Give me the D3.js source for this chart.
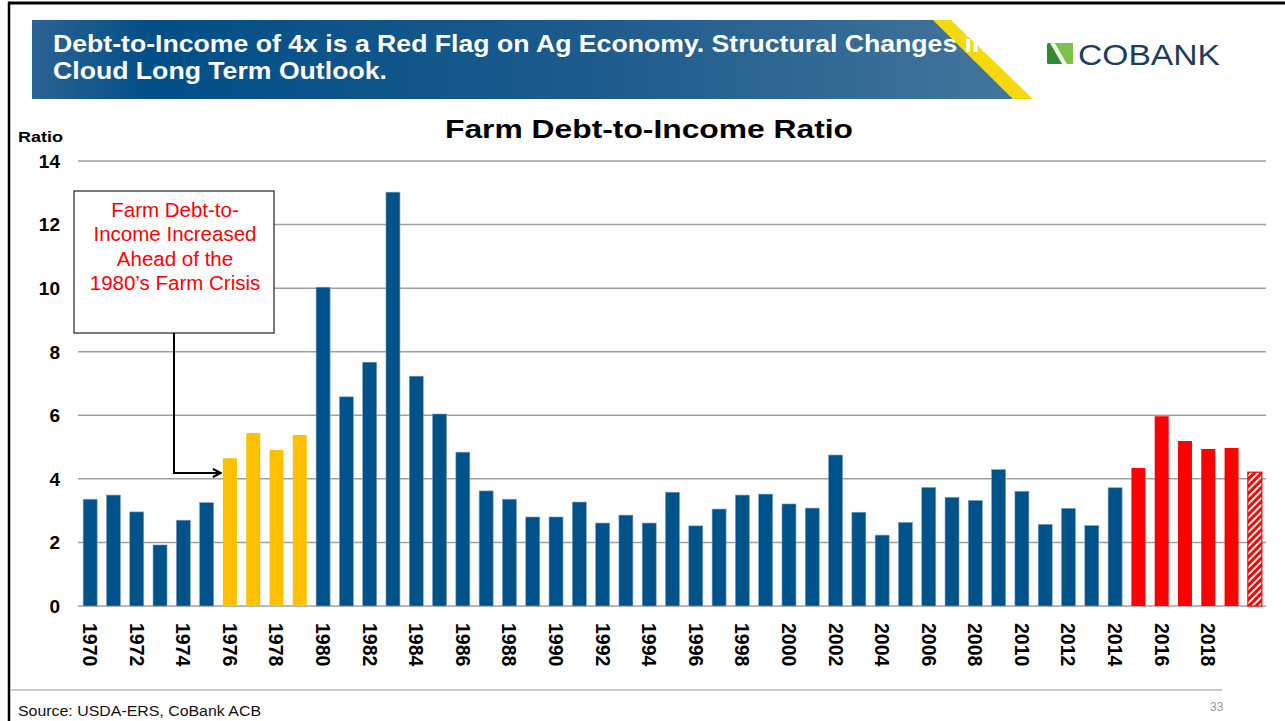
<!DOCTYPE html>
<html><head><meta charset="utf-8">
<script src="https://cdn.jsdelivr.net/npm/d3@7"></script>
<style>body{margin:0;background:#fff}svg{display:block;font-family:"Liberation Sans",Arial,sans-serif}</style>
</head><body>
<svg id="c" width="1285" height="721"></svg>
<script>
const years = d3.range(1970, 2021);
const ratios = [3.36,3.49,2.96,1.92,2.70,3.25,4.65,5.44,4.91,5.38,
  10.03,6.58,7.67,13.02,7.23,6.04,4.84,3.62,3.36,2.80,
  2.80,3.27,2.61,2.86,2.61,3.58,2.52,3.05,3.49,3.52,
  3.21,3.08,4.75,2.95,2.23,2.63,3.73,3.42,3.32,4.29,
  3.61,2.57,3.07,2.53,3.72,4.34,5.97,5.19,4.94,4.97,4.21];
const yTicks = [0,2,4,6,8,10,12,14];
const xLabels = d3.range(1970, 2019, 2);
const highlightYellow = [1976,1977,1978,1979];
const highlightRed = [2015,2016,2017,2018,2019];
const forecastYears = [2020];
const titleLines = ["Debt-to-Income of 4x is a Red Flag on Ag Economy. Structural Changes in", "Cloud Long Term Outlook."];
const noteLines = ["Farm Debt-to-","Income Increased","Ahead of the","1980\u2019s Farm Crisis"];

const svg = d3.select("#c");
const defs = svg.append("defs");
const g1 = defs.append("linearGradient").attr("id","ban").attr("x1","0").attr("x2","1");
g1.append("stop").attr("offset","0").attr("stop-color","#2b6393");
g1.append("stop").attr("offset","0.12").attr("stop-color","#014f88");
g1.append("stop").attr("offset","0.55").attr("stop-color","#1b5a8c");
g1.append("stop").attr("offset","1").attr("stop-color","#42759b");
const pat = defs.append("pattern").attr("id","hatch").attr("patternUnits","userSpaceOnUse")
  .attr("width",5).attr("height",5).attr("patternTransform","rotate(45)");
pat.append("rect").attr("width",5).attr("height",5).attr("fill","#fff");
pat.append("rect").attr("width",3).attr("height",5).attr("fill","#ff0000");
const ar = defs.append("marker").attr("id","arr").attr("viewBox","0 0 10 10").attr("refX",9).attr("refY",5)
  .attr("markerWidth",5).attr("markerHeight",5).attr("orient","auto");
ar.append("path").attr("d","M1,1 L9,5 L1,9").attr("fill","none").attr("stroke","#000").attr("stroke-width",2);

// frame
svg.append("line").attr("x1",8).attr("x2",1285).attr("y1",3).attr("y2",3).attr("stroke","#000").attr("stroke-width",3);
svg.append("line").attr("x1",9).attr("x2",9).attr("y1",2).attr("y2",721).attr("stroke","#000").attr("stroke-width",2.5);
svg.append("line").attr("x1",10).attr("x2",1222).attr("y1",690).attr("y2",690).attr("stroke","#bbb").attr("stroke-width",1.5);

// banner
svg.append("path").attr("d","M933,20 L951,20 L1033,99 L1013,99 Z").attr("fill","#f5d90a");
svg.append("path").attr("d","M32,20 L933,20 L1013,99 L32,99 Z").attr("fill","url(#ban)");
const t1 = svg.append("text").attr("y",52).attr("fill","#fff").attr("font-weight","bold").attr("font-size",23).text(titleLines[0]);
const fullW = t1.node().getComputedTextLength();
const prefW = t1.node().getSubStringLength(0, titleLines[0].length - 3);
const sx = (958 - 53) / prefW;
t1.attr("transform",`translate(53,0) scale(${sx},1)`);
svg.append("text").attr("y",79).attr("fill","#fff").attr("font-weight","bold").attr("font-size",23)
  .attr("transform",`translate(53,0) scale(${sx},1)`).text(titleLines[1]);

// logo
const lg = svg.append("g").attr("transform","translate(1047,43)");
lg.append("rect").attr("width",26).attr("height",21).attr("rx",1.5).attr("fill","#2f8a32");
lg.append("path").attr("d","M8,0 L26,0 L26,21 L20,21 Z").attr("fill","#7cc24a");
lg.append("path").attr("d","M3,0 L8,0 L20,21 L15,21 Z").attr("fill","#eef6e8");
lg.append("text").attr("x",31).attr("y",22).attr("font-size",30).attr("fill","#1e3d5e")
  .attr("textLength",142).attr("lengthAdjust","spacingAndGlyphs").text("COBANK");

// scales
const x = d3.scaleBand().domain(years).range([78.5,1266.5]).paddingInner(0.4).paddingOuter(0.2);
const y = d3.scaleLinear().domain([0,14]).range([606,161]);

// grid
svg.append("g").selectAll("line").data(yTicks).join("line")
  .attr("x1",78).attr("x2",1266).attr("y1",d=>y(d)).attr("y2",d=>y(d))
  .attr("stroke","#a0a0a0").attr("stroke-width",1.5);

// y labels
svg.append("g").selectAll("text").data(yTicks).join("text")
  .attr("x",60).attr("y",d=>y(d)).attr("dy","0.36em").attr("text-anchor","end")
  .attr("font-weight","bold").attr("font-size",19).text(d=>d);
svg.append("text").attr("x",18).attr("y",142).attr("font-weight","bold").attr("font-size",15.5)
  .attr("textLength",45).attr("lengthAdjust","spacingAndGlyphs").text("Ratio");
svg.append("text").attr("x",445).attr("y",138).attr("font-weight","bold").attr("font-size",26)
  .attr("textLength",408).attr("lengthAdjust","spacingAndGlyphs").text("Farm Debt-to-Income Ratio");

// bars
const data = years.map((yr,i)=>({yr, v: ratios[i]}));
function fill(d){
  if (forecastYears.includes(d.yr)) return "url(#hatch)";
  if (highlightYellow.includes(d.yr)) return "#ffc000";
  if (highlightRed.includes(d.yr)) return "#ff0000";
  return "#00528a";
}
svg.append("g").selectAll("rect").data(data).join("rect")
  .attr("x",d=>x(d.yr)).attr("width",x.bandwidth())
  .attr("y",d=>y(d.v)).attr("height",d=>y(0)-y(d.v))
  .attr("fill",fill)
  .attr("stroke",d=>forecastYears.includes(d.yr)?"#ff0000":(fill(d)==="#00528a"?"#7f9fbf":"none"))
  .attr("stroke-width",d=>forecastYears.includes(d.yr)?1.2:0.6);

// x labels
svg.append("g").selectAll("text").data(xLabels).join("text")
  .attr("transform",d=>`translate(${x(d)+x.bandwidth()/2},623) rotate(90)`)
  .attr("dy","0.36em").attr("font-weight","bold").attr("font-size",19.5).text(d=>d);

// annotation
svg.append("rect").attr("x",74).attr("y",191).attr("width",200).attr("height",142)
  .attr("fill","#fff").attr("stroke","#222").attr("stroke-width",1.2);
svg.append("g").selectAll("text").data(noteLines).join("text")
  .attr("x",175).attr("y",(d,i)=>217+i*24.3).attr("text-anchor","middle")
  .attr("fill","#ff0000").attr("font-size",20.5).text(d=>d);
svg.append("path").attr("d",`M174,333 L174,473 L${x(1976)-2},473`).attr("fill","none")
  .attr("stroke","#000").attr("stroke-width",2).attr("marker-end","url(#arr)");

// footer
svg.append("text").attr("x",18).attr("y",716).attr("font-size",14)
  .attr("textLength",243).attr("lengthAdjust","spacingAndGlyphs").attr("fill","#111").text("Source: USDA-ERS, CoBank ACB");
svg.append("text").attr("x",1210).attr("y",711).attr("font-size",12).attr("fill","#999").text("33");
</script>
</body></html>
